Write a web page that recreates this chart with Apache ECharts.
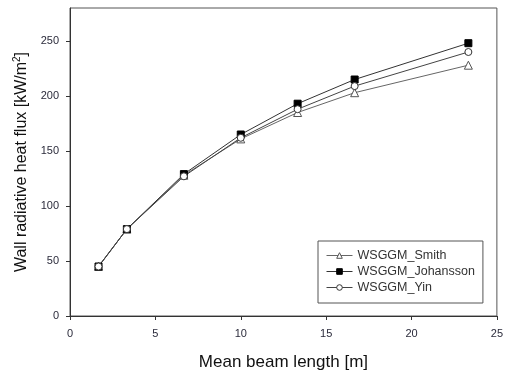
<!DOCTYPE html>
<html>
<head>
<meta charset="utf-8">
<script src="https://cdn.jsdelivr.net/npm/echarts@6/dist/echarts.min.js"></script>
<style>
  html, body { margin: 0; padding: 0; background: #fff; }
  #chart { width: 506px; height: 376px; }
</style>
</head>
<body>
<div id="chart"></div>
<script>
// Mean beam length [m]
const beamLength = [1.67, 3.33, 6.67, 10, 13.33, 16.67, 23.33];
// Wall radiative heat flux [kW/m²] per model
const smith     = [45, 79, 128, 161, 185, 203, 228];
const johansson = [45, 79, 129, 165, 193, 215, 248];
const yin       = [45, 79, 127, 162, 188, 209, 240];
const yTicks = [0, 50, 100, 150, 200, 250];

const pairs = ys => beamLength.map((x, i) => [x, ys[i]]);
const font = '"Liberation Sans", Arial, sans-serif';

const chart = echarts.init(document.getElementById('chart'), null, { renderer: 'canvas' });
chart.setOption({
  animation: false,
  textStyle: { fontFamily: font },
  grid: {
    left: 70, right: 8, top: 8, bottom: 60,
    show: true, borderColor: '#555', borderWidth: 1, backgroundColor: '#fff'
  },
  legend: {
    orient: 'vertical',
    left: 318, top: 241,
    padding: [8, 8, 9, 8],
    itemGap: 3,
    itemWidth: 26, itemHeight: 7,
    borderColor: '#555', borderWidth: 1,
    backgroundColor: '#fff',
    lineStyle: { width: 1 },
    itemStyle: { borderWidth: 1 },
    textStyle: { fontSize: 12.5, color: '#333', fontFamily: font },
    data: ['WSGGM_Smith', 'WSGGM_Johansson', 'WSGGM_Yin']
  },
  xAxis: {
    type: 'value', min: 0, max: 25, interval: 5,
    name: 'Mean beam length [m]', nameLocation: 'middle', nameGap: 38,
    nameTextStyle: { fontSize: 17, color: '#111', fontFamily: font },
    axisLine: { show: true, lineStyle: { color: '#333' } },
    axisTick: { show: true, length: 4, lineStyle: { color: '#333' } },
    axisLabel: { fontSize: 11, color: '#2b2b3b', margin: 12 },
    splitLine: { show: false }
  },
  yAxis: {
    type: 'value', min: 0, max: 280,
    name: 'Wall radiative heat flux [kW/m{sup|2}]', nameLocation: 'middle', nameGap: 36,
    nameTextStyle: {
      fontSize: 16, color: '#111', fontFamily: font,
      rich: { sup: { fontSize: 10, verticalAlign: 'top', padding: [0, 0, 8, 0], color: '#111' } }
    },
    axisLine: { show: true, lineStyle: { color: '#333' } },
    axisTick: { show: true, length: 4, customValues: yTicks, lineStyle: { color: '#333' } },
    axisLabel: { fontSize: 11, color: '#2b2b3b', margin: 11, customValues: yTicks },
    splitLine: { show: false }
  },
  series: [
    {
      name: 'WSGGM_Smith', type: 'line', data: pairs(smith),
      symbol: 'triangle', symbolSize: 8,
      lineStyle: { color: '#666', width: 1 },
      itemStyle: { color: '#fff', borderColor: '#555', borderWidth: 1 }
    },
    {
      name: 'WSGGM_Johansson', type: 'line', data: pairs(johansson),
      symbol: 'rect', symbolSize: 7,
      lineStyle: { color: '#333', width: 1 },
      itemStyle: { color: '#000', borderColor: '#000', borderWidth: 1 }
    },
    {
      name: 'WSGGM_Yin', type: 'line', data: pairs(yin),
      symbol: 'circle', symbolSize: 7,
      lineStyle: { color: '#444', width: 1 },
      itemStyle: { color: '#fff', borderColor: '#333', borderWidth: 1 }
    }
  ]
});
</script>
</body>
</html>
